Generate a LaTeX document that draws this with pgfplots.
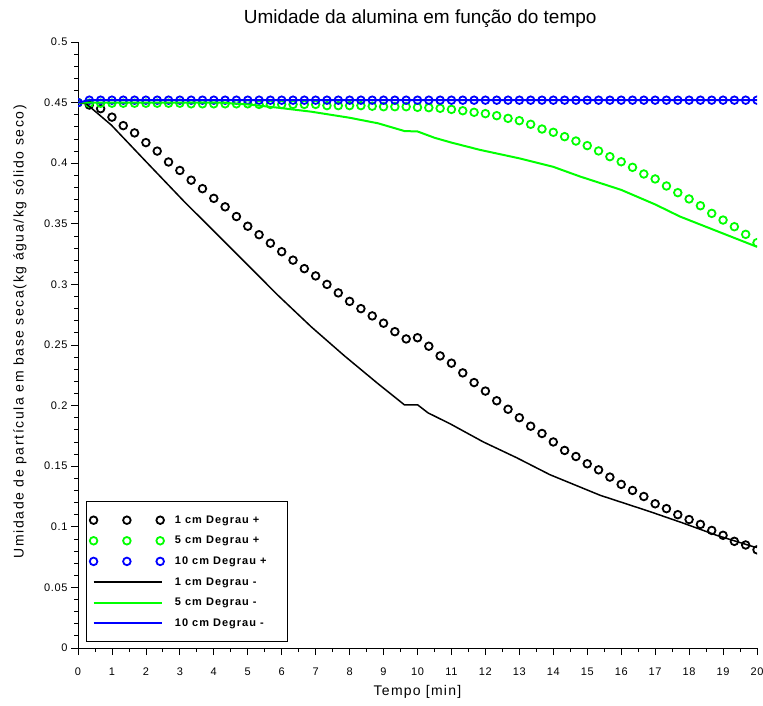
\documentclass[border=0pt]{standalone}
\usepackage{pgfplots}
\pgfplotsset{compat=1.18}
\usepackage{pgfplotstable}
\usepackage{fontspec}
\setmainfont{Liberation Sans}
\newfontfamily\tickfont[LetterSpace=6]{Liberation Sans}
\newfontfamily\labfont[LetterSpace=9]{Liberation Sans}
\newfontfamily\ylabfont[LetterSpace=11.5]{Liberation Sans}
\newfontfamily\legfont[LetterSpace=9]{Liberation Sans}
\definecolor{sciblue}{RGB}{0,0,255}
\definecolor{scigreen}{RGB}{0,255,0}

% marcadores: degrau +
\pgfplotstableread{
x y
0 0.450
0.3333 0.448
0.6667 0.445
1 0.438
1.3333 0.431
1.6667 0.425
2 0.417
2.3333 0.410
2.6667 0.401
3 0.394
3.3333 0.386
3.6667 0.379
4 0.371
4.3333 0.364
4.6667 0.356
5 0.348
5.3333 0.341
5.6667 0.334
6 0.327
6.3333 0.320
6.6667 0.313
7 0.307
7.3333 0.300
7.6667 0.293
8 0.286
8.3333 0.280
8.6667 0.274
9 0.268
9.3333 0.261
9.6667 0.255
10 0.256
10.3333 0.249
10.6667 0.241
11 0.235
11.3333 0.227
11.6667 0.219
12 0.212
12.3333 0.204
12.6667 0.197
13 0.190
13.3333 0.183
13.6667 0.177
14 0.170
14.3333 0.163
14.6667 0.158
15 0.152
15.3333 0.147
15.6667 0.141
16 0.135
16.3333 0.130
16.6667 0.125
17 0.119
17.3333 0.115
17.6667 0.110
18 0.106
18.3333 0.102
18.6667 0.097
19 0.093
19.3333 0.088
19.6667 0.085
20 0.081
}\bkp

\pgfplotstableread{
x y
0 0.4500
0.3333 0.4495
0.6667 0.4495
1 0.4495
1.3333 0.4495
1.6667 0.4495
2 0.4495
2.3333 0.4495
2.6667 0.4495
3 0.4495
3.3333 0.4490
3.6667 0.4490
4 0.4490
4.3333 0.4490
4.6667 0.4490
5 0.4490
5.3333 0.4485
5.6667 0.4485
6 0.4485
6.3333 0.4485
6.6667 0.4485
7 0.4485
7.3333 0.4475
7.6667 0.4475
8 0.4475
8.3333 0.4475
8.6667 0.4470
9 0.4466
9.3333 0.4466
9.6667 0.4466
10 0.4461
10.3333 0.4458
10.6667 0.4453
11 0.4444
11.3333 0.4433
11.6667 0.4420
12 0.4409
12.3333 0.4392
12.6667 0.4370
13 0.4351
13.3333 0.4321
13.6667 0.4282
14 0.4255
14.3333 0.4219
14.6667 0.4183
15 0.4145
15.3333 0.4101
15.6667 0.4054
16 0.4012
16.3333 0.3966
16.6667 0.3911
17 0.3870
17.3333 0.3812
17.6667 0.3757
18 0.3705
18.3333 0.3649
18.6667 0.3586
19 0.3531
19.3333 0.3476
19.6667 0.3413
20 0.3344
}\grp

\pgfplotstableread{
x y
0 0.450
0.3333 0.452
0.6667 0.452
1 0.452
1.3333 0.452
1.6667 0.452
2 0.452
2.3333 0.452
2.6667 0.452
3 0.452
3.3333 0.452
3.6667 0.452
4 0.452
4.3333 0.452
4.6667 0.452
5 0.452
5.3333 0.452
5.6667 0.452
6 0.452
6.3333 0.452
6.6667 0.452
7 0.452
7.3333 0.452
7.6667 0.452
8 0.452
8.3333 0.452
8.6667 0.452
9 0.452
9.3333 0.452
9.6667 0.452
10 0.452
10.3333 0.452
10.6667 0.452
11 0.452
11.3333 0.452
11.6667 0.452
12 0.452
12.3333 0.452
12.6667 0.452
13 0.452
13.3333 0.452
13.6667 0.452
14 0.452
14.3333 0.452
14.6667 0.452
15 0.452
15.3333 0.452
15.6667 0.452
16 0.452
16.3333 0.452
16.6667 0.452
17 0.452
17.3333 0.452
17.6667 0.452
18 0.452
18.3333 0.452
18.6667 0.452
19 0.452
19.3333 0.452
19.6667 0.452
20 0.452
}\blp

% linhas: degrau -
\pgfplotstableread{
x y
0 0.450
0.245 0.449
0.98 0.4315
1.96 0.4026
3.14 0.368
3.93 0.346
5.0 0.316
5.89 0.291
6.87 0.265
7.85 0.241
8.84 0.218
9.62 0.2005
10.01 0.2005
10.31 0.194
10.96 0.185
11.94 0.170
12.92 0.157
13.90 0.143
15.38 0.126
16.85 0.1125
17.83 0.103
18.81 0.093
19.89 0.0836
20 0.083
}\bkm

\pgfplotstableread{
x y
0 0.450
4.2 0.4500
5.0 0.4485
5.89 0.4458
6.87 0.4425
8.0 0.4375
8.84 0.4329
9.62 0.4265
10.0 0.4262
10.5 0.421
11 0.417
11.84 0.411
13 0.404
14 0.397
14.79 0.389
16 0.378
17 0.366
17.73 0.356
19 0.342
20 0.331
}\grm

\pgfplotstableread{
x y
0 0.450
0.3333 0.452
20 0.452
}\blm

\begin{document}
\begin{tikzpicture}
\path[use as bounding box] (0,0) rectangle (763pt,705pt);
\begin{axis}[
  at={(78pt,57pt)}, anchor=south west,
  scale only axis, width=679pt, height=606pt,
  xmin=0, xmax=20, ymin=0, ymax=0.5,
  axis x line*=bottom, axis y line*=left,
  axis line style={line width=0.8pt, -},
  xtick={0,1,...,20},
  ytick={0,0.05,0.1,0.15,0.2,0.25,0.3,0.35,0.4,0.45,0.5},
  minor x tick num=1, minor y tick num=4,
  tick align=outside,
  major tick length=7pt, minor tick length=4pt,
  every tick/.style={black, line width=0.8pt},
  ticklabel style={font=\tickfont\fontsize{11}{13}\selectfont},
  yticklabel style={/pgf/number format/.cd, fixed, precision=2, assume math mode=true},
  xticklabel style={/pgf/number format/assume math mode=true, yshift=-9pt},
  title={Umidade da alumina em função do tempo},
  title style={font=\fontsize{19}{21}\selectfont, at={(axis description cs:0.504,1.029)}, anchor=center},
  xlabel={Tempo [min]},
  xlabel style={font=\labfont\fontsize{14}{16}\selectfont, at={(axis description cs:0.5,-0.0726)}, anchor=center},
  ylabel={Umidade de partícula em base seca(kg água/kg sólido seco)},
  ylabel style={font=\ylabfont\fontsize{14}{16}\selectfont, at={(axis description cs:-0.0854,0.522)}, anchor=center},
  clip marker paths=true,
  legend cell align=left,
  legend style={at={(axis description cs:0.0122,0.0094)}, anchor=south west,
    draw=black, line width=1pt, font=\legfont\bfseries\fontsize{11}{13}\selectfont,
    inner xsep=3pt, inner ysep=12pt, row sep=7.5pt, column sep=9pt},
  mkleg/.style={legend image code/.code={\draw[##1] plot[only marks] coordinates {(0pt,0pt) (33.3pt,0pt) (66.6pt,0pt)};}},
  lnleg/.style={legend image code/.code={\draw[##1] (0pt,0pt) -- (68pt,0pt);}},
]
\addplot[only marks, mark=o, mark size=3.8pt, line width=1.8pt, black, mkleg] table {\bkp};
\addlegendentry{1 cm Degrau +}
\addplot[only marks, mark=o, mark size=3.8pt, line width=1.8pt, scigreen, mkleg] table {\grp};
\addlegendentry{5 cm Degrau +}
\addplot[only marks, mark=o, mark size=3.8pt, line width=1.8pt, sciblue, mkleg] table {\blp};
\addlegendentry{10 cm Degrau +\hspace*{16pt}}
\addplot[black, line width=1.5pt, lnleg] table {\bkm};
\addlegendentry{1 cm Degrau -}
\addplot[scigreen, line width=2pt, lnleg] table {\grm};
\addlegendentry{5 cm Degrau -}
\addplot[sciblue, line width=2pt, lnleg] table {\blm};
\addlegendentry{10 cm Degrau -}
\end{axis}
\end{tikzpicture}
\end{document}
